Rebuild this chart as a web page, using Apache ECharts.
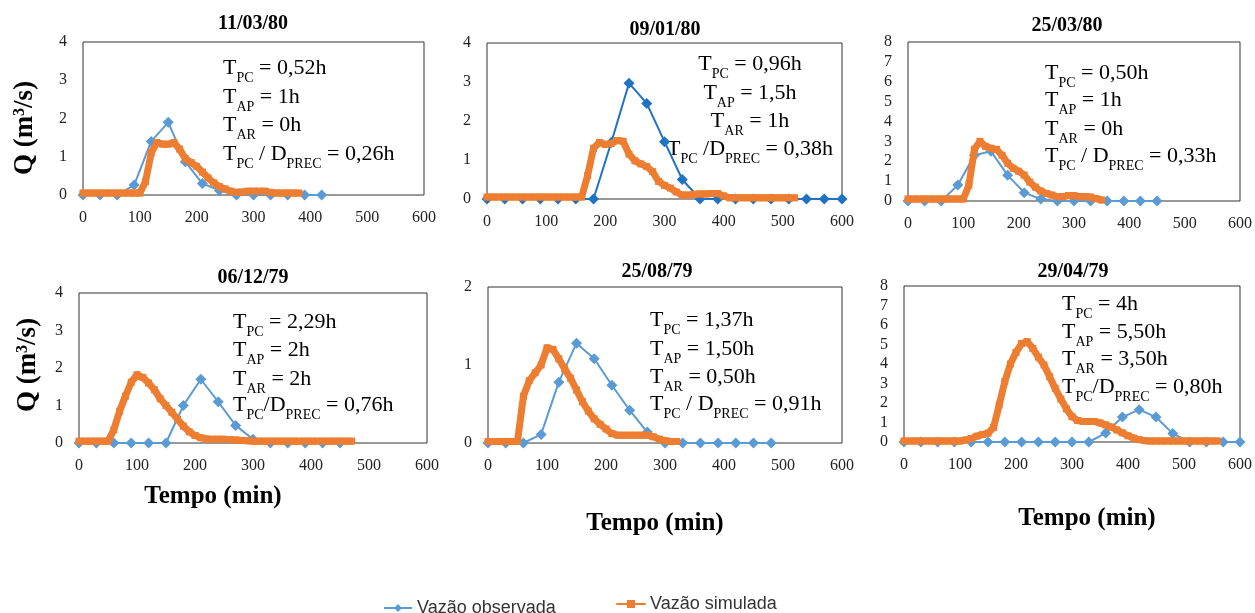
<!DOCTYPE html>
<html>
<head>
<meta charset="utf-8">
<script src="https://cdn.jsdelivr.net/npm/echarts@6/dist/echarts.min.js"></script>
<style>
  html, body { margin: 0; padding: 0; background: #fff; }
  #main { width: 1255px; height: 613px; }
</style>
</head>
<body>
<div id="main"></div>
<script>
// tempos (min)
const obsTimes = [0, 30, 60, 90, 120, 150, 180, 210, 240, 270, 300, 330, 360, 390, 420, 450, 480, 510, 540, 570, 600];
const simTimes = [0, 10, 20, 30, 40, 50, 60, 70, 80, 90, 100, 110, 120, 130, 140, 150, 160, 170, 180, 190,
  200, 210, 220, 230, 240, 250, 260, 270, 280, 290, 300, 310, 320, 330, 340, 350, 360, 370, 380, 390,
  400, 410, 420, 430, 440, 450, 460, 470, 480, 490, 500, 510, 520, 530, 540, 550, 560];

// vazão observada (m3/s)
const obs1 = [0, 0, 0, 0.26, 1.4, 1.9, 0.87, 0.3, 0.12, 0, 0, 0, 0, 0, 0];
const obs2 = [0, 0, 0, 0, 0, 0, 0, 1.45, 2.97, 2.45, 1.47, 0.5, 0, 0, 0, 0, 0, 0, 0, 0, 0];
const obs3 = [0, 0, 0, 0.8, 2.3, 2.5, 1.3, 0.42, 0.1, 0, 0, 0, 0, 0, 0, 0];
const obs4 = [0, 0, 0, 0, 0, 0, 1.0, 1.7, 1.1, 0.47, 0.1, 0, 0, 0, 0, 0];
const obs5 = [0, 0, 0, 0.11, 0.78, 1.28, 1.08, 0.74, 0.42, 0.14, 0, 0, 0, 0, 0, 0, 0];
const obs6 = [0, 0, 0, 0, 0, 0, 0, 0, 0, 0, 0, 0, 0.46, 1.28, 1.66, 1.28, 0.43, 0, 0, 0, 0];

// vazão simulada (m3/s)
const sim1 = [0.05, 0.05, 0.05, 0.05, 0.05, 0.05, 0.05, 0.05, 0.05, 0.05, 0.05, 0.35, 1.1, 1.37, 1.33, 1.33,
  1.37, 1.2, 0.95, 0.85, 0.75, 0.6, 0.45, 0.32, 0.22, 0.16, 0.1, 0.07, 0.08, 0.1, 0.1, 0.1, 0.1, 0.07,
  0.05, 0.05, 0.05, 0.05, 0.05];
const sim2 = [0.05, 0.05, 0.05, 0.05, 0.05, 0.05, 0.05, 0.05, 0.05, 0.05, 0.05, 0.05, 0.05, 0.05, 0.05, 0.05,
  0.05, 0.6, 1.3, 1.45, 1.4, 1.42, 1.5, 1.48, 1.15, 0.98, 0.9, 0.83, 0.7, 0.45, 0.35, 0.28, 0.18, 0.1,
  0.1, 0.12, 0.13, 0.13, 0.14, 0.14, 0.08, 0.03, 0.03, 0.03, 0.03, 0.03, 0.03, 0.03, 0.03, 0.03, 0.03,
  0.03, 0.03];
const sim3 = [0.1, 0.1, 0.1, 0.1, 0.1, 0.1, 0.1, 0.1, 0.1, 0.1, 0.1, 0.8, 2.6, 3.0, 2.75, 2.65, 2.6, 2.3, 1.9,
  1.65, 1.5, 1.3, 0.95, 0.7, 0.5, 0.38, 0.3, 0.22, 0.22, 0.27, 0.27, 0.22, 0.22, 0.2, 0.12, 0.05];
const sim4 = [0.05, 0.05, 0.05, 0.05, 0.05, 0.05, 0.35, 0.85, 1.25, 1.62, 1.82, 1.75, 1.6, 1.42, 1.18, 1.0,
  0.82, 0.63, 0.45, 0.3, 0.2, 0.14, 0.11, 0.1, 0.1, 0.1, 0.09, 0.08, 0.07, 0.06, 0.05, 0.05, 0.05, 0.05,
  0.05, 0.05, 0.05, 0.05, 0.05, 0.05, 0.05, 0.05, 0.05, 0.05, 0.05, 0.05, 0.05, 0.05];
const sim5 = [0.02, 0.02, 0.02, 0.02, 0.02, 0.02, 0.6, 0.8, 0.9, 1.0, 1.22, 1.2, 1.08, 0.95, 0.83, 0.68, 0.53,
  0.41, 0.31, 0.24, 0.18, 0.12, 0.1, 0.1, 0.1, 0.1, 0.1, 0.1, 0.08, 0.05, 0.03, 0.02, 0.02];
const sim6 = [0.05, 0.05, 0.05, 0.05, 0.05, 0.05, 0.05, 0.05, 0.05, 0.05, 0.05, 0.1, 0.18, 0.3, 0.38, 0.45,
  0.75, 1.9, 3.1, 4.0, 4.6, 5.05, 5.15, 4.8, 4.35, 3.95, 3.35, 2.75, 2.2, 1.7, 1.3, 1.1, 1.05, 1.05, 1.05,
  0.98, 0.88, 0.77, 0.62, 0.47, 0.32, 0.2, 0.12, 0.07, 0.05, 0.05, 0.05, 0.05, 0.05, 0.05, 0.05, 0.05,
  0.05, 0.05, 0.05, 0.05, 0.05];

const titles = ['11/03/80', '09/01/80', '25/03/80', '06/12/79', '25/08/79', '29/04/79'];
const yMax = [4, 4, 8, 4, 2, 8];

// textos dos parâmetros (T com subscrito)
const notes = [
  ['{n|T}{s|PC}{n| = 0,52h}', '{n|T}{s|AP}{n| = 1h}', '{n|T}{s|AR}{n| = 0h}', '{n|T}{s|PC}{n| / D}{s|PREC}{n| = 0,26h}'],
  ['{n|T}{s|PC}{n| = 0,96h}', '{n|T}{s|AP}{n| = 1,5h}', '{n|T}{s|AR}{n| = 1h}', '{n|T}{s|PC}{n| /D}{s|PREC}{n| = 0,38h}'],
  ['{n|T}{s|PC}{n| = 0,50h}', '{n|T}{s|AP}{n| = 1h}', '{n|T}{s|AR}{n| = 0h}', '{n|T}{s|PC}{n| / D}{s|PREC}{n| = 0,33h}'],
  ['{n|T}{s|PC}{n| = 2,29h}', '{n|T}{s|AP}{n| = 2h}', '{n|T}{s|AR}{n| = 2h}', '{n|T}{s|PC}{n|/D}{s|PREC}{n| = 0,76h}'],
  ['{n|T}{s|PC}{n| = 1,37h}', '{n|T}{s|AP}{n| = 1,50h}', '{n|T}{s|AR}{n| = 0,50h}', '{n|T}{s|PC}{n| / D}{s|PREC}{n| = 0,91h}'],
  ['{n|T}{s|PC}{n| = 4h}', '{n|T}{s|AP}{n| = 5,50h}', '{n|T}{s|AR}{n| = 3,50h}', '{n|T}{s|PC}{n|/D}{s|PREC}{n| = 0,80h}']
];

const obsAll = [obs1, obs2, obs3, obs4, obs5, obs6];
const simAll = [sim1, sim2, sim3, sim4, sim5, sim6];

// posição de cada painel
const panels = [
  { left: 83, top: 42, width: 341, height: 153, tx: 253, ty: 24, nx: 223, ny: [66, 95, 123, 152], align: 'left' },
  { left: 487, top: 43, width: 355, height: 156, tx: 665, ty: 30, nx: 750, ny: [62, 91, 119, 147], align: 'center' },
  { left: 908, top: 42, width: 332, height: 159, tx: 1067, ty: 26, nx: 1045, ny: [71, 98, 127, 154], align: 'left' },
  { left: 79, top: 293, width: 348, height: 150, tx: 253, ty: 278, nx: 233, ny: [320, 348, 377, 403], align: 'left' },
  { left: 488, top: 287, width: 354, height: 156, tx: 657, ty: 272, nx: 650, ny: [318, 347, 375, 402], align: 'left' },
  { left: 904, top: 286, width: 338, height: 156, tx: 1073, ty: 272, nx: 1062, ny: [302, 330, 357, 385], align: 'left' }
];

const obsColors = ['#5B9BD5', '#1F72C4', '#5B9BD5', '#5B9BD5', '#5B9BD5', '#5B9BD5'];
const simColor = '#ED7D31';
const serif = "'Liberation Serif', 'Times New Roman', serif";

function pairs(times, vals) {
  return vals.map((v, i) => [times[i], v]);
}

const grid = [], xAxis = [], yAxis = [], series = [], graphic = [];

panels.forEach((p, i) => {
  grid.push({
    left: p.left, top: p.top, width: p.width, height: p.height,
    show: true, borderColor: '#333', borderWidth: 1, backgroundColor: 'transparent'
  });
  xAxis.push({
    type: 'value', gridIndex: i, min: 0, max: 600, interval: 100,
    axisLine: { show: false }, axisTick: { show: false }, splitLine: { show: false },
    axisLabel: { color: '#222', fontFamily: serif, fontSize: 16, margin: 15 }
  });
  yAxis.push({
    type: 'value', gridIndex: i, min: 0, max: yMax[i], interval: 1,
    axisLine: { show: false }, axisTick: { show: false }, splitLine: { show: false },
    axisLabel: { color: '#222', fontFamily: serif, fontSize: 16, margin: 16 }
  });
  series.push({
    name: 'Vazão observada', type: 'line', xAxisIndex: i, yAxisIndex: i,
    data: pairs(obsTimes, obsAll[i]),
    symbol: 'diamond', symbolSize: 11, clip: false, z: 2,
    lineStyle: { width: 2, color: obsColors[i] },
    itemStyle: { color: obsColors[i] }
  });
  series.push({
    name: 'Vazão simulada', type: 'line', xAxisIndex: i, yAxisIndex: i,
    data: pairs(simTimes, simAll[i]),
    symbol: 'rect', symbolSize: 7, clip: false, z: 3,
    lineStyle: { width: 7, color: simColor, join: 'round', cap: 'round' },
    itemStyle: { color: simColor }
  });
  // título do painel
  graphic.push({
    type: 'text', x: p.tx, y: p.ty,
    style: { text: titles[i], fontFamily: serif, fontWeight: 'bold', fontSize: 20, fill: '#000', align: 'center', verticalAlign: 'middle' }
  });
  notes[i].forEach((line, k) => {
    graphic.push({
      type: 'text', x: p.nx, y: p.ny[k] + 5,
      style: {
        text: line, align: p.align, verticalAlign: 'middle',
        rich: {
          n: { fontFamily: serif, fontSize: 22, lineHeight: 28, color: '#000', verticalAlign: 'top' },
          s: { fontFamily: serif, fontSize: 14, lineHeight: 6, color: '#000', verticalAlign: 'bottom' }
        }
      }
    });
  });
});

// nomes dos eixos
[[27, 128], [30, 365]].forEach(([x, y]) => {
  graphic.push({
    type: 'text', x: x, y: y, rotation: Math.PI / 2,
    style: {
      text: '{b|Q (m}{u|3}{b|/s)}', align: 'center', verticalAlign: 'middle',
      rich: {
        b: { fontFamily: serif, fontWeight: 'bold', fontSize: 27, lineHeight: 30, color: '#000', verticalAlign: 'top' },
        u: { fontFamily: serif, fontWeight: 'bold', fontSize: 16, lineHeight: 16, color: '#000', verticalAlign: 'top' }
      }
    }
  });
});
[[213, 497], [655, 524], [1087, 519]].forEach(([x, y]) => {
  graphic.push({
    type: 'text', x: x, y: y,
    style: { text: 'Tempo (min)', fontFamily: serif, fontWeight: 'bold', fontSize: 25, fill: '#000', align: 'center', verticalAlign: 'middle' }
  });
});

const legendText = { fontFamily: "'Liberation Sans', Arial, sans-serif", fontSize: 18, color: '#333' };

const option = {
  animation: false,
  backgroundColor: '#fff',
  grid: grid,
  xAxis: xAxis,
  yAxis: yAxis,
  series: series,
  graphic: graphic,
  legend: [
    { data: ['Vazão observada'], left: 378, top: 594, itemWidth: 28, itemHeight: 10, itemGap: 6, textStyle: legendText },
    { data: ['Vazão simulada'], left: 611, top: 590, itemWidth: 28, itemHeight: 10, textStyle: legendText }
  ]
};

const myChart = echarts.init(document.getElementById('main'));
myChart.setOption(option);
</script>
</body>
</html>
